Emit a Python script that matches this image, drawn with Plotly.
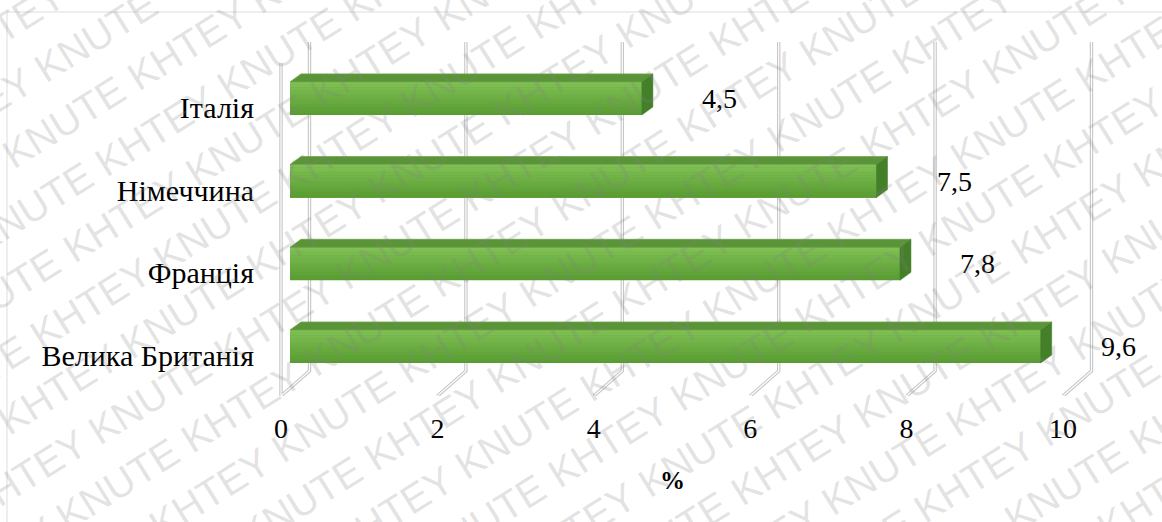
import math
import plotly.graph_objects as go

# ---- data -------------------------------------------------------------
countries = ["Велика Британія", "Франція", "Німеччина", "Італія"]
values = [9.6, 7.8, 7.5, 4.5]
value_text = ["9,6", "7,8", "7,5", "4,5"]
x_ticks = [0, 2, 4, 6, 8, 10]
x_title = "%"
watermark_words = ["KNUTE", "KHTEY"]

# ---- geometry (pixels) ----------------------------------------------------
W, H = 1162, 522
PX_UNIT = 78.2          # pixels per 1 %
X0 = 290                # pixel x of 0 on the bars' front face
ROW0 = 346.5            # pixel y of the lowest row centre
ROW = 82.7              # pixels between rows
L, R, T, B = 262, 1152, 30, 396

x_range = [(L - X0) / PX_UNIT, (R - X0) / PX_UNIT]
y_range = [(ROW0 - B) / ROW, (ROW0 - T) / ROW]


def ux(px):            # horizontal pixel offset -> data units
    return px / PX_UNIT


def uy(py):            # vertical pixel offset (up) -> row units
    return py / ROW


def ry(py):            # absolute pixel y -> row coordinate
    return (ROW0 - py) / ROW


def paper_x(px):
    return (px - L) / (R - L)


def paper_y(py):
    return (B - py) / (B - T)


FRONT_DX = ux(-9)       # front edge of the floor
BACK_DX = ux(19.5)      # back wall
WALL_TOP, WALL_BOT, FLOOR_FRONT, SIDE_TOP = 42, 371, 396, 63
BAR_H = 33              # front face height, px
DEPTH_X, DEPTH_Y = ux(11), uy(8)

rows = list(range(len(countries)))
bar_w = BAR_H / ROW

shapes = []

# 3-D wall / floor gridlines, drawn as double lines
for v in x_ticks:
    bx, fx = v + BACK_DX, v + FRONT_DX
    path = (f"M {bx},{ry(WALL_TOP)} L {bx},{ry(WALL_BOT)} "
            f"L {fx},{ry(FLOOR_FRONT)}")
    if v == x_ticks[0]:
        path += f" L {fx},{ry(SIDE_TOP)}"
    for col, wid in (("#c6c6c6", 3.4), ("#ffffff", 1.2)):
        shapes.append(dict(type="path", xref="x", yref="y", path=path,
                           line=dict(color=col, width=wid), layer="below"))

# front face gradient strips, top face and side face of each bar
top_col, bot_col = (128, 192, 84), (88, 156, 50)
N_STRIPS = 12
for r, v in zip(rows, values):
    y_top, y_bot = r + bar_w / 2, r - bar_w / 2
    for k in range(N_STRIPS):
        t = k / (N_STRIPS - 1)
        c = tuple(round(a + (b - a) * t) for a, b in zip(top_col, bot_col))
        s0 = y_top - (y_top - y_bot) * k / N_STRIPS
        s1 = y_top - (y_top - y_bot) * (k + 1) / N_STRIPS
        shapes.append(dict(type="rect", xref="x", yref="y", x0=0, x1=v,
                           y0=s1, y1=s0, line=dict(width=0),
                           fillcolor=f"rgb{c}", layer="above"))
    shapes.append(dict(
        type="path", xref="x", yref="y", layer="above",
        path=(f"M 0,{y_top} L {v},{y_top} L {v + DEPTH_X},{y_top + DEPTH_Y} "
              f"L {DEPTH_X},{y_top + DEPTH_Y} Z"),
        fillcolor="#5b9438", line=dict(color="#6aa646", width=0.8)))
    shapes.append(dict(
        type="path", xref="x", yref="y", layer="above",
        path=(f"M {v},{y_top} L {v + DEPTH_X},{y_top + DEPTH_Y} "
              f"L {v + DEPTH_X},{y_bot + DEPTH_Y} L {v},{y_bot} Z"),
        fillcolor="#447f2a", line=dict(color="#447f2a", width=0.5)))

# outer chart frame
shapes.append(dict(type="rect", xref="paper", yref="paper",
                   x0=paper_x(7), x1=paper_x(W + 10),
                   y0=paper_y(H + 10), y1=paper_y(12),
                   line=dict(color="#d9dde3", width=1), layer="below"))

fig = go.Figure()
fig.add_trace(go.Bar(
    y=rows, x=values, orientation="h", width=bar_w,
    marker=dict(color="#6cab41", line=dict(width=0)),
    hoverinfo="skip", showlegend=False))

serif = "Liberation Serif"
annotations = []
for r, v, t in zip(rows, values, value_text):
    annotations.append(dict(x=v + ux(78), y=r, xref="x", yref="y", text=t,
                            showarrow=False, xanchor="center", yanchor="middle",
                            font=dict(family=serif, size=28, color="black")))

annotations.append(dict(x=5 + FRONT_DX, y=paper_y(480), xref="x", yref="paper",
                        text=f"<b>{x_title}</b>", showarrow=False,
                        xanchor="center", yanchor="middle",
                        font=dict(family=serif, size=25, color="black")))

# diagonal KNUTE / KHTEY watermark, one word per annotation
ANG = 32
a = math.radians(ANG)
dir_x, dir_y = math.cos(a), -math.sin(a)      # along the text
per_x, per_y = math.sin(a), math.cos(a)       # across the lines
WORD_STEP, LINE_STEP, LINE_SHIFT = 146, 56, 73
for k in range(-14, 15):
    for j in range(-10, 11):
        s = j * WORD_STEP + k * LINE_SHIFT
        cx = W / 2 + k * LINE_STEP * per_x + s * dir_x
        cy = H / 2 + k * LINE_STEP * per_y + s * dir_y
        if not (-60 < cx < W + 60 and -40 < cy < H + 40):
            continue
        annotations.append(dict(
            x=paper_x(cx), y=paper_y(cy), xref="paper", yref="paper",
            text=watermark_words[(j + k) % 2], showarrow=False,
            xanchor="center", yanchor="middle", textangle=-ANG,
            font=dict(family="Liberation Sans", size=40,
                      color="rgba(130,130,130,0.22)")))

fig.update_layout(
    width=W, height=H,
    margin=dict(l=L, r=W - R, t=T, b=H - B, pad=0),
    paper_bgcolor="white", plot_bgcolor="white",
    font=dict(family=serif),
    shapes=shapes, annotations=annotations,
    xaxis=dict(range=x_range, showgrid=False, zeroline=False, showline=False,
               tickmode="array", tickvals=[v + FRONT_DX for v in x_ticks],
               ticktext=[str(v) for v in x_ticks], ticks="",
               ticklabelstandoff=13,
               tickfont=dict(family=serif, size=28, color="black")),
    yaxis=dict(range=y_range, showgrid=False, zeroline=False, showline=False,
               tickmode="array", tickvals=[r - uy(9) for r in rows],
               ticktext=countries, ticks="", ticklabelstandoff=7,
               tickfont=dict(family=serif, size=30, color="black")),
    bargap=0,
)

fig.write_html("out.html")
